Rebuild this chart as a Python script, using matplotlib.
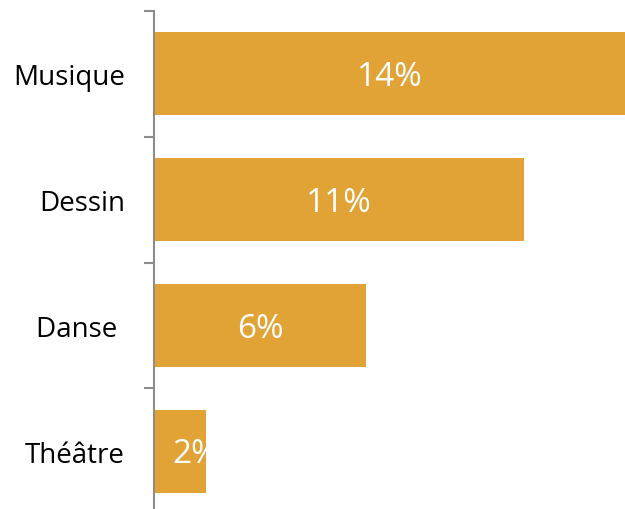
import numpy as np
import matplotlib
matplotlib.use('Agg')
import matplotlib.pyplot as plt

categories = ['Musique', 'Dessin', 'Danse ', 'Théâtre']
values = [0.14, 0.11, 0.063, 0.0155]
labels = ['14%', '11%', '6%', '2%']

bar_color = '#E1A335'
axis_color = '#8C8C8C'

fig = plt.figure(figsize=(6.25, 5.1), dpi=100)
ax = fig.add_axes([154 / 625, 1 - 515 / 510, 1 - 154 / 625, (515 - 12) / 510])

y = np.arange(len(categories))
bars = ax.barh(y, values, height=0.66, color=bar_color)

for b, lab, v in zip(bars, labels, values):
    cy = b.get_y() + b.get_height() / 2
    if v > 0.03:
        ax.annotate(lab, (v / 2, cy), xytext=(0, -2), textcoords='offset points',
                    ha='center', va='center', color='white', fontsize=24,
                    family='Open Sans', clip_on=True, clip_path=b)
    else:
        # label wider than the bar: starts inside and gets cut at the bar end
        ax.annotate(lab, (0, cy), xytext=(13, -2), textcoords='offset points',
                    ha='left', va='center', color='white', fontsize=24,
                    family='Open Sans', clip_on=True, clip_path=b)

ax.set_xlim(0, 0.14)
ax.set_ylim(len(categories) - 0.5, -0.5)

ax.set_yticks(y)
ax.set_yticklabels(categories, family='Open Sans', fontsize=20)
ax.set_yticks(np.arange(len(categories) + 1) - 0.5, minor=True)
ax.tick_params(axis='y', which='major', length=0, pad=21)
ax.tick_params(axis='y', which='minor', length=7, width=1.5, color=axis_color)
ax.set_xticks([])

for s in ['top', 'right', 'bottom']:
    ax.spines[s].set_visible(False)
ax.spines['left'].set_color(axis_color)
ax.spines['left'].set_linewidth(1.5)

fig.savefig('out.png', dpi=100)
